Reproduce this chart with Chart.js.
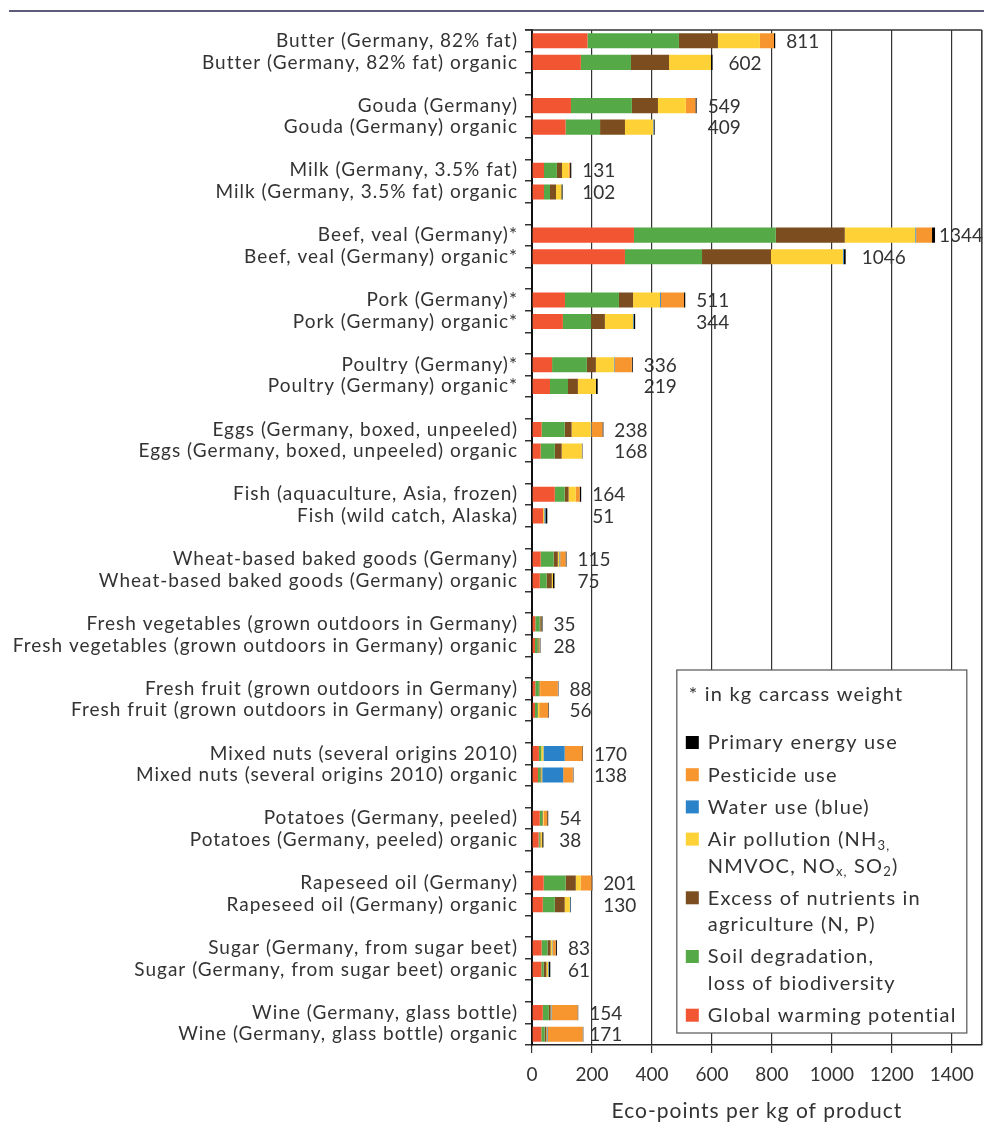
<!DOCTYPE html>
<html>
<head>
<meta charset="utf-8">
<script src="https://cdn.jsdelivr.net/npm/chart.js@4.4.1/dist/chart.umd.min.js"></script>
<style>
html,body{margin:0;padding:0;background:#fff;}
#wrap{width:984px;height:1125px;position:relative;}
</style>
</head>
<body>
<div id="wrap"><canvas id="c" width="984" height="1125"></canvas></div>
<script>
// ---- data ----
const products = [
  "Butter (Germany, 82% fat)", "Butter (Germany, 82% fat) organic",
  "Gouda (Germany)", "Gouda (Germany) organic",
  "Milk (Germany, 3.5% fat)", "Milk (Germany, 3.5% fat) organic",
  "Beef, veal (Germany)*", "Beef, veal (Germany) organic*",
  "Pork (Germany)*", "Pork (Germany) organic*",
  "Poultry (Germany)*", "Poultry (Germany) organic*",
  "Eggs (Germany, boxed, unpeeled)", "Eggs (Germany, boxed, unpeeled) organic",
  "Fish (aquaculture, Asia, frozen)", "Fish (wild catch, Alaska)",
  "Wheat-based baked goods (Germany)", "Wheat-based baked goods (Germany) organic",
  "Fresh vegetables (grown outdoors in Germany)", "Fresh vegetables (grown outdoors in Germany) organic",
  "Fresh fruit (grown outdoors in Germany)", "Fresh fruit (grown outdoors in Germany) organic",
  "Mixed nuts (several origins 2010)", "Mixed nuts (several origins 2010) organic",
  "Potatoes (Germany, peeled)", "Potatoes (Germany, peeled) organic",
  "Rapeseed oil (Germany)", "Rapeseed oil (Germany) organic",
  "Sugar (Germany, from sugar beet)", "Sugar (Germany, from sugar beet) organic",
  "Wine (Germany, glass bottle)", "Wine (Germany, glass bottle) organic"
];
const totals = [811, 602, 549, 409, 131, 102, 1344, 1046, 511, 344, 336, 219, 238, 168, 164, 51,
                115, 75, 35, 28, 88, 56, 170, 138, 54, 38, 201, 130, 83, 61, 154, 171];

const globalWarming = [185, 163, 130, 112, 40, 40, 340, 310, 110, 103, 67, 60, 32, 29, 76, 37,
                       29, 26, 11, 10, 11, 10, 23, 20, 26, 22, 39, 36, 32, 31, 36, 31];
const soilDegradation = [305, 167, 203, 115, 43, 20, 473, 257, 180, 94, 116, 60, 77, 47, 33, 0,
                         43, 23, 14, 8, 12, 8, 8, 8, 8, 4, 73, 40, 20, 8, 20, 11];
const excessNutrients = [130, 127, 87, 83, 17, 20, 230, 230, 47, 46, 30, 33, 23, 23, 13, 0,
                         14, 17, 4, 4, 2, 2, 0, 3, 2, 2, 34, 33, 10, 9, 6, 6];
const airPollution = [140, 140, 93, 94, 22, 18, 235, 240, 90, 94, 60, 60, 64, 67, 24, 4,
                      5, 4, 2, 3, 2, 4, 7, 3, 3, 6, 16, 17, 6, 6, 2, 2];
const waterUse = [0, 0, 0, 2, 0, 0, 3, 3, 3, 2, 2, 0, 2, 0, 0, 4,
                  3, 0, 0, 0, 0, 0, 71, 70, 0, 0, 0, 2, 2, 2, 2, 2];
const pesticideUse = [47, 0, 32, 0, 5, 0, 53, 0, 77, 0, 58, 0, 37, 0, 13, 0,
                      18, 0, 0, 0, 59, 30, 59, 32, 12, 0, 37, 0, 9, 0, 86, 117];
const primaryEnergy = [4, 5, 4, 3, 4, 4, 10, 6, 4, 5, 3, 6, 3, 2, 5, 6,
                       3, 5, 4, 3, 2, 2, 2, 2, 3, 4, 2, 2, 4, 5, 2, 2];

const xTickValues = [0, 200, 400, 600, 800, 1000, 1200, 1400];
const xMax = 1500;
const xTitle = "Eco-points per kg of product";
const footnote = "* in kg carcass weight";

const seriesNames = ["Global warming potential", "Soil degradation, loss of biodiversity",
  "Excess of nutrients in agriculture (N, P)", "Air pollution (NH3, NMVOC, NOx, SO2)",
  "Water use (blue)", "Pesticide use", "Primary energy use"];
const seriesColors = ["#F15532", "#55A947", "#7B4D1F", "#FED236", "#2A83C8", "#F7962F", "#000000"];
const seriesValues = [globalWarming, soilDegradation, excessNutrients, airPollution, waterUse, pesticideUse, primaryEnergy];

// legend text lines (with subscripts), top to bottom
const legendEntries = [
  {series: 6, lines: [[["Primary energy use"]]]},
  {series: 5, lines: [[["Pesticide use"]]]},
  {series: 4, lines: [[["Water use (blue)"]]]},
  {series: 3, lines: [[["Air pollution (NH"], ["3,", 1]], [["NMVOC, NO"], ["x,", 1], [" SO"], ["2", 1], [")"]]]},
  {series: 2, lines: [[["Excess of nutrients in"]], [["agriculture (N, P)"]]]},
  {series: 1, lines: [[["Soil degradation,"]], [["loss of biodiversity"]]]},
  {series: 0, lines: [[["Global warming potential"]]]}
];

// ---- build slots: pairs separated by empty gap rows ----
const slotLabels = [];
const slotIndex = [];
products.forEach((p, i) => {
  if (i > 0 && i % 2 === 0) slotLabels.push("");
  slotIndex.push(slotLabels.length);
  slotLabels.push(p);
});
function toSlots(arr) {
  const out = slotLabels.map(() => null);
  arr.forEach((v, i) => { out[slotIndex[i]] = v; });
  return out;
}

const FONT = "Lato, 'Noto Sans', sans-serif";
const TXT = "#333333";
const SPACING = "1px";

const frame = {
  id: 'frame',
  afterLayout(chart) {
    const s = chart.scales.x;
    if (s && !s._numPatched) {
      const orig = s.drawLabels.bind(s);
      s.drawLabels = (area) => {
        const c = s.ctx, prev = c.letterSpacing;
        c.letterSpacing = '0px';
        orig(area);
        c.letterSpacing = prev;
      };
      s._numPatched = true;
    }
  },
  beforeDraw(chart) {
    const ctx = chart.ctx;
    ctx.letterSpacing = SPACING;
    ctx.save();
    ctx.fillStyle = '#fff';
    ctx.fillRect(0, 0, chart.width, chart.height);
    ctx.strokeStyle = '#5c5c7a';
    ctx.lineWidth = 2;
    ctx.beginPath(); ctx.moveTo(9, 11); ctx.lineTo(chart.width, 11); ctx.stroke();
    ctx.restore();
  },
  afterDraw(chart) {
    const ctx = chart.ctx, a = chart.chartArea;
    ctx.save();
    ctx.strokeStyle = '#333';
    ctx.lineWidth = 1.5;
    ctx.beginPath();
    ctx.moveTo(a.left - 7, a.top); ctx.lineTo(a.right, a.top);
    ctx.moveTo(a.right, a.top); ctx.lineTo(a.right, a.bottom);
    ctx.stroke();
    ctx.restore();
  }
};

const valueLabels = {
  id: 'valueLabels',
  afterDatasetsDraw(chart) {
    const ctx = chart.ctx, xs = chart.scales.x, ys = chart.scales.y;
    ctx.save();
    ctx.letterSpacing = '0px';
    ctx.font = "19px " + FONT;
    ctx.fillStyle = TXT;
    ctx.textBaseline = 'middle';
    ctx.textAlign = 'left';
    let firstX = 0;
    products.forEach((p, i) => {
      const sum = seriesValues.reduce((s, arr) => s + arr[i], 0);
      const end = xs.getPixelForValue(sum);
      const txt = String(totals[i]);
      const tw = ctx.measureText(txt).width;
      let x;
      if (i % 2 === 0) { x = Math.min(end + 11, chart.width - tw - 1); firstX = x; }
      else { x = (firstX - end > 70) ? end + 16 : firstX; }
      const y = ys.getPixelForValue(slotIndex[i]);
      ctx.fillText(txt, x, y + 1);
    });
    ctx.restore();
  }
};

const legendBox = {
  id: 'legendBox',
  afterDraw(chart) {
    const ctx = chart.ctx, a = chart.chartArea;
    const w = 290, h = 363;
    const x0 = a.right - 15 - w, y0 = a.bottom - 12 - h;
    ctx.save();
    ctx.letterSpacing = '1.2px';
    ctx.fillStyle = '#fff';
    ctx.fillRect(x0, y0, w, h);
    ctx.strokeStyle = '#555';
    ctx.lineWidth = 1.2;
    ctx.strokeRect(x0, y0, w, h);
    ctx.fillStyle = TXT;
    ctx.textBaseline = 'middle';
    ctx.textAlign = 'left';
    ctx.font = "20px " + FONT;
    ctx.fillText(footnote, x0 + 12, y0 + 25);
    let y = y0 + 73;
    legendEntries.forEach(e => {
      ctx.fillStyle = seriesColors[e.series];
      ctx.fillRect(x0 + 9, y - 7, 13, 13);
      e.lines.forEach((line, li) => {
        let x = x0 + 31;
        line.forEach(part => {
          const sub = part[1] === 1;
          ctx.font = (sub ? "13px " : "20px ") + FONT;
          ctx.fillStyle = TXT;
          ctx.fillText(part[0], x, y + (sub ? 6 : 0));
          x += ctx.measureText(part[0]).width;
        });
        if (li < e.lines.length - 1) y += 26.5;
      });
      y += 32.2;
    });
    ctx.restore();
  }
};

new Chart(document.getElementById('c'), {
  type: 'bar',
  data: {
    labels: slotLabels,
    datasets: seriesNames.map((n, k) => ({
      label: n,
      data: toSlots(seriesValues[k]),
      backgroundColor: seriesColors[k],
      borderWidth: 0,
      barPercentage: 0.7,
      categoryPercentage: 1.0
    }))
  },
  options: {
    indexAxis: 'y',
    responsive: false,
    devicePixelRatio: 1,
    animation: false,
    layout: { padding: { top: 30, right: 2, left: 0, bottom: 0 } },
    plugins: { legend: { display: false }, tooltip: { enabled: false } },
    scales: {
      x: {
        type: 'linear', stacked: true, min: 0, max: xMax, position: 'bottom',
        afterBuildTicks: s => { s.ticks = xTickValues.map(v => ({ value: v })); },
        afterFit: s => { s.height = 80; },
        ticks: { font: { family: FONT, size: 19 }, color: TXT, padding: 10, callback: v => String(v) },
        grid: { color: '#333', lineWidth: 1.2, tickLength: 8, drawOnChartArea: true },
        border: { display: true, color: '#222', width: 1.5 },
        title: { display: true, text: xTitle, font: { family: FONT, size: 21 }, color: TXT, padding: { top: 0, bottom: 1 } }
      },
      y: {
        type: 'category', stacked: true, offset: true,
        afterFit: s => { s.width = 532; },
        ticks: { font: { family: FONT, size: 19 }, color: TXT, padding: 7, autoSkip: false },
        grid: { offset: true, drawOnChartArea: false, tickLength: 7, color: '#333', lineWidth: 1.5 },
        border: { display: true, color: '#111', width: 2 }
      }
    }
  },
  plugins: [frame, valueLabels, legendBox]
});
</script>
</body>
</html>
